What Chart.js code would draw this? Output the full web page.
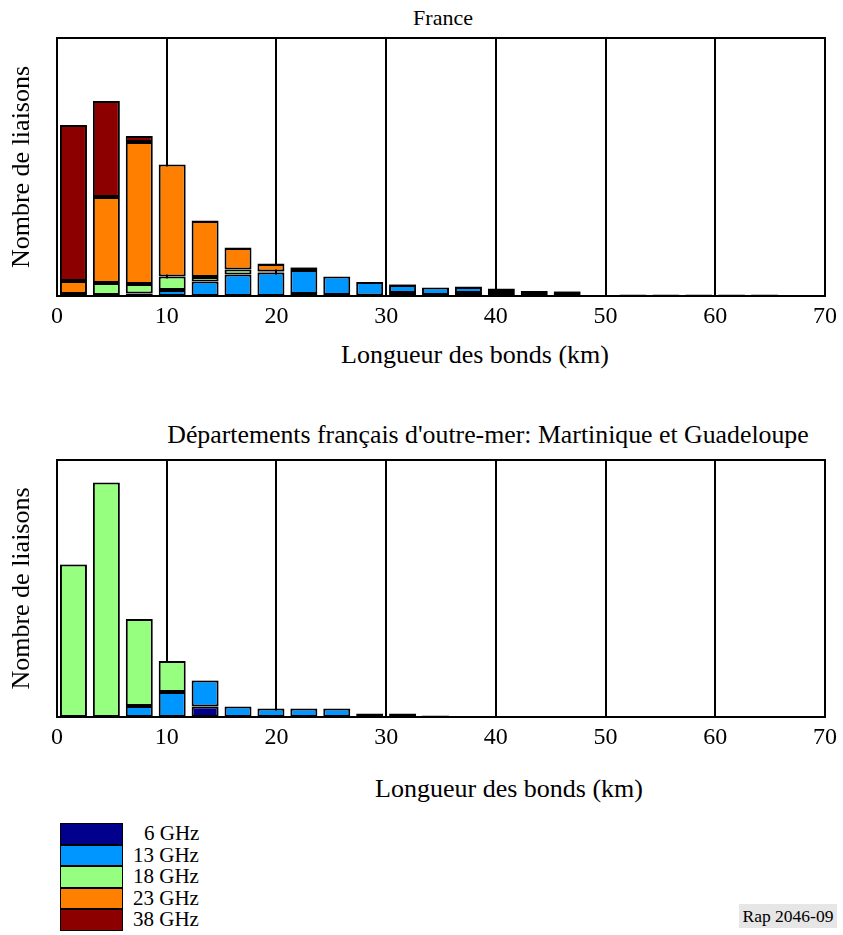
<!DOCTYPE html>
<html>
<head>
<meta charset="utf-8">
<script src="https://cdn.jsdelivr.net/npm/chart.js@4/dist/chart.umd.min.js"></script>
<style>
  html, body { margin: 0; padding: 0; background: #fff; }
  body { width: 843px; height: 935px; position: relative; overflow: hidden; font-family: "Liberation Serif", "Times New Roman", serif; color: #000; }
  canvas { position: absolute; left: 0; }
  .txt { position: absolute; white-space: nowrap; transform: translate(-50%, -50%); line-height: 1; }
  .legend { position: absolute; left: 60px; top: 823px; }
  .lrow { position: relative; height: 21.6px; }
  .lbox { position: absolute; left: 0; top: 0; width: 61px; height: 19.6px; border: 1px solid #000; box-sizing: content-box; }
  .llab { position: absolute; left: 73px; width: 90px; top: 0px; font-size: 21px; line-height: 21px; text-align: left; }
  .rap { position: absolute; left: 739px; top: 904px; width: 98px; height: 24px; background: #e6e6e6; font-size: 17.5px; line-height: 24px; text-align: center; }
</style>
</head>
<body>
<div class="txt" style="left:443px; top:18px; font-size:22px;">France</div>
<div class="txt" style="left:475px; top:355px; font-size:26px;">Longueur des bonds (km)</div>
<div class="txt" style="left:488px; top:435px; font-size:25.8px;">Départements français d'outre-mer: Martinique et Guadeloupe</div>
<div class="txt" style="left:509px; top:789px; font-size:26px;">Longueur des bonds (km)</div>
<canvas id="c1" width="843" height="340" style="top:0px;"></canvas>
<canvas id="c2" width="843" height="361" style="top:400px;"></canvas>
<div class="legend" id="legend"></div>
<div class="rap">Rap 2046-09</div>
<script>
// ---- data ----
const seriesLabels = ['6 GHz', '13 GHz', '18 GHz', '23 GHz', '38 GHz'];
const seriesColors = ['#00008C', '#0096FF', '#96FF80', '#FF8000', '#8C0000'];
const xTicks = [0, 10, 20, 30, 40, 50, 60, 70];

// France: bin centres (km) and number of links per band (relative units)
const franceBins = [1.5, 4.5, 7.5, 10.5, 13.5, 16.5, 19.5, 22.5, 25.5, 28.5, 31.5, 34.5, 37.5, 40.5, 43.5, 46.5, 49.5, 52.5, 55.5, 58.5, 61.5, 64.5];
const france6  = [0, 0, 0.5, 0, 0, 0, 0, 2, 1, 0.5, 3, 1, 3, 3, 2, 2, 0, 0, 0, 0, 0, 0];
const france13 = [0.5, 1, 2, 6, 14.5, 21.5, 23.5, 24, 18.5, 13.5, 8, 7.5, 6, 4, 3, 2.5, 0, 0, 0, 0, 0, 0];
const france18 = [1.5, 12, 9.5, 13.5, 4.5, 5, 1, 0, 0, 0, 0, 0, 0, 0, 0, 0, 0, 1.5, 0, 0, 0, 0];
const france23 = [13, 86, 142, 112, 56, 21.5, 7.5, 2.5, 0, 0, 0.5, 0, 0.5, 0, 0, 0.5, 0, 0, 0, 0, 0, 0];
const france38 = [156, 96, 6, 0, 0.5, 0.5, 0.5, 0.5, 0, 0, 0.5, 0, 0, 0.5, 0, 0, 0, 0, 1.5, 1.5, 1.5, 1.5];
const franceMax = 258;

// DOM: Martinique et Guadeloupe
const domBins = [1.5, 4.5, 7.5, 10.5, 13.5, 16.5, 19.5, 22.5, 25.5, 28.5, 31.5, 34.5];
const dom6  = [0, 0, 0, 0, 10.5, 0, 0, 0, 0, 0, 0, 1.5];
const dom13 = [0, 0, 11, 25, 26, 10.5, 8.5, 8.5, 8.5, 0, 0, 0];
const dom18 = [152.5, 234.5, 87, 31, 0, 0, 0, 0, 0, 0, 0, 0];
const dom23 = [0, 0, 0, 0, 0, 0, 0, 0, 0, 0, 0, 0];
const dom38 = [0.3, 0, 0, 0, 0.3, 0, 0, 0, 0, 3.5, 3.5, 0];
const domMax = 257;

// ---- helpers ----
const FONT = "'Liberation Serif', 'Times New Roman', serif";
function makeDatasets(bins, arrays) {
  return arrays.map((arr, i) => ({
    label: seriesLabels[i],
    data: bins.map((b, j) => ({ x: b, y: arr[j] })),
    backgroundColor: seriesColors[i],
    borderColor: '#000',
    borderWidth: 2,
    borderSkipped: false,
    barPercentage: 0.82,
    categoryPercentage: 1.0
  }));
}
const framePlugin = {
  id: 'frame',
  beforeDatasetsDraw(chart) {
    const a = chart.chartArea, ctx = chart.ctx;
    ctx.save();
    ctx.strokeStyle = '#000';
    ctx.lineWidth = 2;
    ctx.strokeRect(a.left, a.top, a.right - a.left, a.bottom - a.top);
    ctx.restore();
  }
};
function makeChart(id, bins, arrays, yMax, padTop, canvasH, areaBottom) {
  return new Chart(document.getElementById(id), {
    type: 'bar',
    data: { datasets: makeDatasets(bins, arrays) },
    options: {
      responsive: false,
      animation: false,
      devicePixelRatio: 1,
      layout: { padding: { top: padTop, right: 15, left: 0, bottom: 0 } },
      plugins: { legend: { display: false }, tooltip: { enabled: false }, title: { display: false } },
      scales: {
        x: {
          type: 'linear',
          stacked: true,
          offset: false,
          min: 0, max: 70,
          afterBuildTicks: s => { s.ticks = xTicks.map(v => ({ value: v })); },
          grid: { color: '#000', lineWidth: 2, drawTicks: false, offset: false },
          border: { color: '#000', width: 2 },
          ticks: { color: '#000', padding: 6, font: { family: FONT, size: 24 }, maxRotation: 0 },
          afterFit: s => { s.height = canvasH - areaBottom; }
        },
        y: {
          stacked: true,
          min: 0, max: yMax,
          grid: { display: false },
          border: { color: '#000', width: 2 },
          ticks: { display: false },
          title: { display: true, text: 'Nombre de liaisons', color: '#000', font: { family: FONT, size: 26 }, padding: { top: 7, bottom: 0 } },
          afterFit: s => { s.width = 57; }
        }
      }
    },
    plugins: [framePlugin]
  });
}
makeChart('c1', franceBins, [france6, france13, france18, france23, france38], franceMax, 38, 340, 296);
makeChart('c2', domBins, [dom6, dom13, dom18, dom23, dom38], domMax, 60, 361, 317);

// legend
const lg = document.getElementById('legend');
seriesLabels.forEach((lab, i) => {
  const row = document.createElement('div');
  row.className = 'lrow';
  const box = document.createElement('div');
  box.className = 'lbox';
  box.style.background = seriesColors[i];
  const t = document.createElement('div');
  t.className = 'llab';
  t.textContent = lab;
  if (lab.length < 6) t.style.paddingLeft = '11px';
  row.appendChild(box); row.appendChild(t);
  lg.appendChild(row);
});
</script>
</body>
</html>
